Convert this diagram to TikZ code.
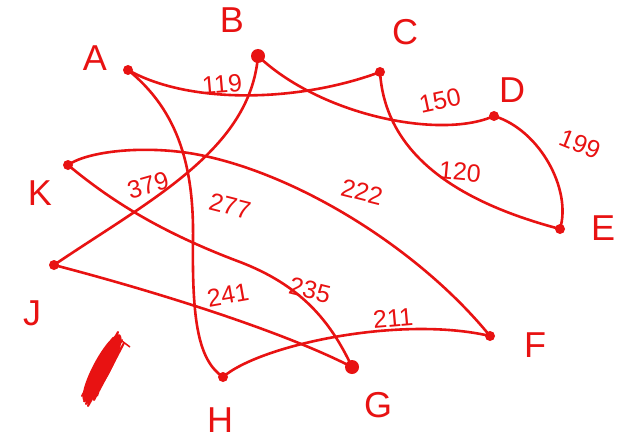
\documentclass[tikz,border=0pt]{standalone}
\usepackage{fontspec}
\setmainfont{Liberation Sans}
\definecolor{pen}{RGB}{232,18,18}
\begin{document}
\begin{tikzpicture}[x=1pt,y=-1pt,
  dot/.style={circle,fill=pen,inner sep=0pt,minimum size=10pt},
  bigdot/.style={circle,fill=pen,inner sep=0pt,minimum size=14pt},
  conn/.style={draw=pen,line width=2.6pt,line cap=round},
  vlabel/.style={text=pen,font=\fontsize{36}{36}\selectfont},
  wt/.style={text=pen,font=\fontsize{25}{25}\selectfont,inner sep=1pt}]
\useasboundingbox (0,0) rectangle (631,441);
\fill[white] (0,0) rectangle (631,441);
% vertices
\node[dot] (A) at (128,70) {};
\node[bigdot] (B) at (258,56) {};
\node[dot] (C) at (380,72) {};
\node[dot] (D) at (494,116) {};
\node[dot] (E) at (560,229) {};
\node[dot] (F) at (490,336) {};
\node[bigdot] (G) at (352,367) {};
\node[dot] (H) at (223,377) {};
\node[dot] (J) at (54,265) {};
\node[dot] (K) at (68,165) {};
% names
\node[vlabel] (nA) at (95,58) {A};
\node[vlabel] (nB) at (232,20) {B};
\node[vlabel] (nC) at (405,32) {C};
\node[vlabel] (nD) at (512,90) {D};
\node[vlabel] (nE) at (603,228) {E};
\node[vlabel] (nF) at (535,345) {F};
\node[vlabel] (nG) at (378,405) {G};
\node[vlabel] (nH) at (220,420) {H};
\node[vlabel] (nJ) at (32,313) {J};
\node[vlabel] (nK) at (40,193) {K};
% edges
\path[conn] (A.center) .. controls (190,105) and (300,102) .. (C.center);
\path[conn] (B.center) .. controls (320,115) and (440,140) .. (D.center);
\path[conn] (C.center) .. controls (385,150) and (450,200) .. (E.center);
\path[conn] (D.center) .. controls (540,130) and (572,190) .. (E.center);
\path[conn] (A.center) .. controls (180,112) and (194,170) .. (193,240) .. controls (192,320) and (198,360) .. (H.center);
\path[conn] (B.center) .. controls (250,150) and (150,200) .. (J.center);
\path[conn] (K.center) .. controls (90,150) and (150,145) .. (200,155) .. controls (300,175) and (420,250) .. (F.center);
\path[conn] (K.center) .. controls (110,200) and (160,232) .. (240,262) .. controls (300,285) and (330,320) .. (G.center);
\path[conn] (J.center) .. controls (150,290) and (280,330) .. (G.center);
\path[conn] (H.center) .. controls (260,345) and (400,315) .. (F.center);
% weights
\node[wt,rotate=5] (w119) at (222,84) {119};
\node[wt,rotate=12] (w150) at (440,101) {150};
\node[wt,rotate=-5] (w120) at (460,172) {120};
\node[wt,rotate=-22] (w199) at (580,144) {199};
\node[wt,rotate=-14] (w222) at (362,192) {222};
\node[wt,rotate=-14] (w277) at (230,206) {277};
\node[wt,rotate=16] (w379) at (148,185) {379};
\node[wt,rotate=10] (w241) at (228,295) {241};
\node[wt,rotate=-14] (w235) at (310,290) {235};
\node[wt,rotate=5] (w211) at (393,318) {211};
% scribble
\fill[pen,rotate around={62:(102,368)}] (102,368) ellipse (38pt and 9pt);
\draw[pen,line width=2pt,line join=round]
  (84,402) -- (116,336) -- (90,398) -- (122,340) -- (86,404) -- (113,338)
  -- (94,400) -- (124,343) -- (88,406) -- (110,345) -- (82,396) -- (118,332)
  -- (97,396);
\draw[pen,line width=1.5pt] (122,341) -- (130,347);
\end{tikzpicture}
\end{document}
